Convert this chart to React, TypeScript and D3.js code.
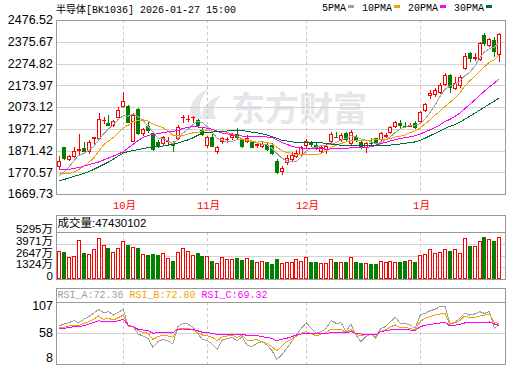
import React from 'react';
import * as d3 from 'd3';

// daily bars, 2025-09-12 .. 2026-01-27
const opens = [
  1793.5, 1886.2, 1827.3, 1841.2, 1870.4, 1884.4, 1865.8, 1924.7, 1926.1, 2009.6,
  2000.3, 1986.4, 2023.5, 2074.5, 2077.7, 1912.2, 2062.4, 1947.9, 1985.0, 1951.1,
  1909.4, 1901.5, 1910.8, 1908.5, 1924.7, 2020.7, 2011.4, 2020.7, 2012.8, 1966.4,
  1892.3, 1935.4, 1863.0, 1909.4, 1920.1, 1928.0, 1946.5, 1920.1, 1909.4, 1912.2,
  1893.7, 1889.0, 1896.9, 1896.9, 1824.1, 1773.1, 1812.0, 1827.3, 1841.2, 1850.5,
  1893.7, 1912.2, 1896.9, 1863.0, 1873.7, 1912.2, 1935.4, 1920.1, 1951.1, 1900.2,
  1935.4, 1912.2, 1884.4, 1906.2, 1928.0, 1920.1, 1935.4, 1951.1, 1981.7, 1997.5,
  1987.3, 1981.7, 2000.3, 2004.9, 2055.9, 2124.1, 2128.7, 2139.4, 2175.1, 2221.5,
  2155.2, 2170.5, 2247.9, 2322.1, 2294.3, 2291.0, 2407.0, 2355.9, 2383.8, 2314.2,
];
const highs = [
  1845.9, 1889.9, 1851.9, 1889.0, 1946.5, 1912.2, 1920.1, 1935.4, 2043.9, 2028.1,
  2037.4, 2012.8, 2074.5, 2144.0, 2082.4, 2043.9, 2067.1, 1974.3, 2004.9, 1958.6,
  1920.1, 1938.6, 1935.4, 1915.4, 1989.6, 2036.0, 2036.0, 2032.8, 2017.5, 1974.3,
  1938.6, 1947.9, 1892.3, 1935.4, 1935.4, 1951.1, 1974.3, 1928.0, 1943.3, 1915.4,
  1912.2, 1915.4, 1904.8, 1904.8, 1830.6, 1799.5, 1850.5, 1863.0, 1873.7, 1893.7,
  1924.7, 1916.8, 1904.8, 1896.9, 1900.2, 1955.8, 1955.8, 1951.1, 1955.8, 1966.4,
  1943.3, 1920.1, 1912.2, 1928.0, 1930.7, 1957.2, 1952.5, 1987.3, 2008.2, 2012.8,
  2003.5, 1998.9, 2010.5, 2055.9, 2093.0, 2151.9, 2159.8, 2182.9, 2229.4, 2226.1,
  2213.6, 2221.5, 2322.1, 2329.5, 2322.1, 2375.9, 2414.8, 2391.7, 2399.1, 2417.6,
];
const lows = [
  1781.0, 1827.3, 1821.3, 1835.2, 1850.5, 1855.2, 1855.2, 1896.9, 1924.7, 1992.9,
  1985.0, 1981.7, 2020.7, 2069.9, 1997.5, 1909.4, 1943.3, 1938.6, 1952.5, 1869.1,
  1881.6, 1896.9, 1893.7, 1865.8, 1920.1, 1997.5, 2002.2, 1997.5, 1974.3, 1938.6,
  1883.0, 1887.6, 1853.8, 1900.2, 1904.8, 1920.1, 1920.1, 1884.4, 1904.8, 1881.6,
  1881.6, 1882.9, 1869.1, 1850.5, 1762.4, 1757.8, 1804.1, 1819.4, 1835.2, 1847.3,
  1881.6, 1889.0, 1873.7, 1853.8, 1853.8, 1904.8, 1929.4, 1912.2, 1912.2, 1896.9,
  1912.2, 1878.3, 1858.4, 1893.7, 1896.9, 1915.4, 1929.4, 1947.9, 1978.0, 1974.3,
  1975.7, 1979.0, 1971.1, 1997.5, 2051.2, 2108.8, 2120.9, 2133.4, 2170.5, 2139.4,
  2151.9, 2159.8, 2244.7, 2283.2, 2287.8, 2287.8, 2355.9, 2352.7, 2306.4, 2283.2,
];
const closes = [
  1822.7, 1830.6, 1845.9, 1869.1, 1876.9, 1863.0, 1912.2, 1932.6, 2016.1, 2012.8,
  1986.4, 2008.2, 2057.8, 2100.9, 2000.3, 2036.0, 1946.5, 1969.7, 1961.8, 1873.7,
  1893.7, 1932.6, 1916.8, 1894.6, 1981.7, 2028.1, 2017.5, 2025.3, 1985.0, 1943.3,
  1934.0, 1889.0, 1889.0, 1928.0, 1923.3, 1943.3, 1928.0, 1889.0, 1930.7, 1884.4,
  1900.2, 1900.2, 1873.7, 1853.8, 1765.6, 1788.9, 1835.2, 1850.5, 1859.8, 1886.2,
  1916.8, 1896.9, 1881.6, 1889.0, 1892.3, 1946.5, 1931.7, 1943.3, 1920.1, 1958.6,
  1920.1, 1884.4, 1907.5, 1900.2, 1900.2, 1951.1, 1943.3, 1981.7, 2003.5, 1985.0,
  1982.7, 1991.0, 1974.3, 2051.2, 2087.0, 2139.4, 2151.9, 2175.1, 2221.5, 2159.8,
  2185.8, 2213.6, 2309.6, 2294.3, 2303.6, 2368.5, 2365.2, 2387.0, 2329.5, 2411.6,
];
// 成交量, 万
const volumes = [
  3155, 3009, 2479, 2558, 4395, 2930, 2817, 3415, 4620, 3866,
  3527, 3043, 3460, 4282, 3866, 3606, 3527, 2784, 2705, 2817,
  2739, 2930, 2400, 2062, 3043, 3460, 3189, 2671, 2930, 2592,
  2592, 2062, 1837, 2446, 2254, 2254, 2400, 2175, 2367, 2175,
  1916, 2029, 1916, 1690, 2254, 1769, 1882, 1882, 2220, 1995,
  2446, 1916, 1916, 1769, 1769, 2220, 1916, 1882, 1916, 2446,
  1916, 1803, 1769, 1690, 1690, 1995, 1882, 1995, 1882, 1916,
  2029, 2107, 1916, 2671, 2784, 3381, 2896, 3009, 3381, 3155,
  3381, 2930, 4587, 3719, 3719, 4282, 4733, 4508, 4316, 4743.0102,
];

const ma5 = [
  1753.2, 1771.7, 1794.9, 1822.7, 1849.2, 1857.1, 1873.3, 1890.9, 1920.1, 1947.5,
  1972.1, 1991.1, 2016.1, 2033.3, 2030.9, 2040.7, 2028.2, 2010.5, 1982.7, 1957.7,
  1928.9, 1926.2, 1915.9, 1902.5, 1923.8, 1950.7, 1967.9, 1989.7, 2007.8, 1999.9,
  1980.9, 1955.4, 1928.0, 1916.9, 1912.7, 1914.6, 1922.4, 1922.4, 1922.9, 1915.0,
  1906.7, 1901.1, 1897.9, 1882.6, 1858.9, 1836.7, 1823.7, 1819.0, 1820.0, 1844.1,
  1869.6, 1882.1, 1888.1, 1894.2, 1895.5, 1901.1, 1908.1, 1920.6, 1926.6, 1940.1,
  1935.0, 1925.2, 1918.3, 1914.1, 1902.5, 1908.5, 1920.6, 1935.4, 1955.8, 1973.0,
  1979.5, 1988.8, 1987.4, 1997.1, 2017.5, 2048.6, 2081.0, 2120.9, 2155.2, 2169.6,
  2178.9, 2191.4, 2218.3, 2232.7, 2261.4, 2298.0, 2328.2, 2343.9, 2350.9, 2372.2,
];
const ma10 = [
  1762.5, 1762.5, 1763.4, 1771.7, 1783.3, 1797.2, 1815.8, 1836.7, 1866.8, 1898.3,
  1914.6, 1932.2, 1953.5, 1976.7, 1989.2, 2006.4, 2009.6, 2013.3, 2007.8, 1994.3,
  1984.6, 1977.2, 1963.2, 1942.4, 1940.5, 1939.6, 1947.0, 1952.6, 1954.9, 1961.9,
  1965.6, 1961.4, 1958.6, 1962.3, 1956.3, 1947.5, 1938.7, 1925.2, 1919.7, 1913.6,
  1910.4, 1911.8, 1909.9, 1902.5, 1886.7, 1871.4, 1862.2, 1858.4, 1851.0, 1851.5,
  1852.9, 1852.9, 1853.3, 1857.1, 1869.6, 1885.3, 1895.1, 1904.3, 1910.4, 1917.8,
  1917.8, 1916.4, 1919.2, 1920.1, 1921.0, 1921.5, 1922.9, 1926.6, 1935.0, 1937.7,
  1943.8, 1954.4, 1961.4, 1976.2, 1995.2, 2013.8, 2034.7, 2054.1, 2075.9, 2093.5,
  2113.5, 2136.2, 2169.6, 2193.7, 2215.5, 2238.2, 2259.5, 2280.9, 2291.5, 2316.6,
];
const ma20 = [
  1781.0, 1781.9, 1784.3, 1788.0, 1792.6, 1798.6, 1805.6, 1812.1, 1818.1, 1827.4,
  1836.7, 1845.9, 1855.2, 1865.9, 1883.0, 1900.2, 1917.8, 1931.7, 1941.0, 1946.1,
  1949.3, 1954.4, 1958.1, 1959.5, 1964.6, 1973.0, 1978.1, 1982.7, 1981.3, 1978.1,
  1974.8, 1969.3, 1960.9, 1952.1, 1948.4, 1943.3, 1942.8, 1938.7, 1937.3, 1937.7,
  1937.7, 1936.3, 1934.0, 1932.2, 1921.5, 1909.5, 1900.2, 1891.8, 1885.3, 1882.6,
  1881.6, 1882.1, 1881.6, 1879.8, 1877.9, 1878.4, 1878.4, 1881.2, 1880.7, 1884.4,
  1885.3, 1884.4, 1886.3, 1888.6, 1895.1, 1903.4, 1909.0, 1915.5, 1922.4, 1927.5,
  1930.8, 1935.4, 1940.1, 1947.9, 1958.1, 1967.4, 1978.5, 1990.1, 2005.4, 2015.6,
  2028.6, 2045.3, 2065.3, 2084.7, 2105.1, 2126.0, 2146.9, 2167.3, 2183.5, 2204.8,
];
const ma30 = [
  1730.0, 1737.0, 1743.9, 1750.9, 1757.8, 1765.7, 1773.1, 1783.3, 1794.9, 1806.5,
  1818.1, 1832.0, 1845.9, 1859.8, 1866.8, 1871.4, 1876.1, 1880.7, 1884.4, 1887.7,
  1890.0, 1892.3, 1895.5, 1900.2, 1906.2, 1913.2, 1920.1, 1929.4, 1941.0, 1951.7,
  1954.9, 1956.8, 1958.6, 1960.5, 1961.9, 1964.2, 1965.1, 1963.7, 1960.9, 1956.8,
  1953.5, 1949.8, 1943.8, 1935.4, 1928.0, 1919.7, 1915.9, 1912.2, 1908.5, 1909.0,
  1909.5, 1908.5, 1907.1, 1907.1, 1903.9, 1901.6, 1898.3, 1896.0, 1893.7, 1894.2,
  1893.7, 1893.7, 1894.2, 1893.2, 1892.3, 1892.8, 1893.2, 1896.5, 1898.8, 1902.0,
  1904.8, 1908.1, 1911.3, 1917.8, 1928.5, 1940.1, 1950.7, 1961.4, 1973.9, 1983.2,
  1991.5, 2002.2, 2016.6, 2030.0, 2043.9, 2057.8, 2072.2, 2087.1, 2100.5, 2115.8,
];

const rsiA = [
  68.6, 71.9, 74.0, 77.2, 74.0, 79.3, 83.6, 88.9, 95.3, 90.0,
  91.6, 86.2, 90.5, 95.3, 67.6, 67.6, 55.9, 52.7, 49.0, 34.6,
  43.6, 47.4, 45.2, 39.9, 67.6, 72.9, 71.9, 67.6, 57.0, 47.4,
  45.2, 39.9, 31.4, 46.3, 48.4, 50.6, 45.2, 51.6, 38.3, 35.7,
  41.0, 43.6, 38.3, 30.3, 15.4, 22.4, 33.0, 43.6, 54.3, 64.9,
  74.0, 64.9, 57.0, 59.6, 64.9, 77.2, 72.9, 74.0, 59.6, 71.9,
  54.3, 43.6, 51.6, 55.9, 49.0, 64.9, 67.6, 75.6, 82.5, 72.9,
  72.9, 70.3, 64.9, 86.2, 88.9, 93.2, 95.3, 99.5, 100.6, 72.9,
  74.0, 80.9, 88.9, 86.2, 87.8, 91.6, 88.9, 91.6, 64.9, 72.36,
];
const rsiB = [
  66.0, 66.5, 68.7, 70.3, 69.2, 72.9, 75.6, 79.3, 84.6, 79.3,
  80.9, 78.3, 82.0, 86.2, 68.7, 67.6, 61.2, 58.6, 57.0, 47.4,
  51.6, 54.3, 52.7, 50.6, 63.3, 64.9, 64.4, 63.3, 58.0, 54.3,
  53.2, 50.6, 45.2, 51.6, 52.7, 53.8, 50.6, 53.8, 46.3, 45.2,
  47.4, 43.6, 41.0, 35.7, 29.3, 35.7, 43.6, 47.4, 52.7, 57.0,
  59.6, 57.0, 52.7, 55.9, 58.0, 63.3, 62.3, 63.3, 58.0, 63.3,
  55.9, 52.7, 55.4, 55.9, 51.6, 59.6, 62.3, 67.6, 70.3, 66.0,
  66.0, 64.9, 62.3, 75.6, 80.9, 83.6, 86.2, 87.8, 88.9, 71.3,
  74.0, 77.2, 84.6, 82.5, 82.5, 84.6, 86.2, 87.8, 74.0, 72.80,
];
const rsiC = [
  65.0, 65.0, 66.0, 67.6, 67.6, 69.2, 71.9, 74.0, 77.2, 75.1,
  75.6, 75.1, 77.2, 79.3, 70.3, 67.6, 63.3, 62.3, 61.2, 57.0,
  58.0, 58.6, 58.6, 58.0, 63.3, 63.9, 63.3, 63.3, 61.2, 58.6,
  58.0, 57.0, 54.8, 55.9, 55.9, 55.9, 55.4, 55.4, 53.8, 53.8,
  53.8, 51.6, 50.6, 49.0, 45.2, 47.4, 49.0, 51.6, 54.3, 55.9,
  57.0, 57.0, 55.9, 57.0, 57.0, 58.0, 58.0, 58.6, 58.0, 59.6,
  57.0, 55.9, 55.9, 55.9, 54.3, 59.6, 61.2, 62.3, 63.3, 62.3,
  62.3, 62.3, 61.2, 67.6, 69.8, 71.3, 72.4, 73.5, 75.1, 68.7,
  69.8, 71.3, 73.5, 73.5, 73.5, 74.5, 74.5, 75.1, 71.9, 69.32,
];

const priceTicks = [2476.52, 2375.67, 2274.82, 2173.97, 2073.12, 1972.27, 1871.42, 1770.57, 1669.73];
const volTicks = [5295, 3971, 2647, 1324, 0];
const rsiTicks = [107, 58, 8];
const monthIdx = [13, 30, 50, 73];
const monthLabels = ['10月', '11月', '12月', '1月'];
const maNames = ['5PMA', '10PMA', '20PMA', '30PMA'];
const rsiNames = ['RSI_A', 'RSI_B', 'RSI_C'];

const title = '半导体[BK1036] 2026-01-27 15:00';
const volTotal = '47430102';

const RED = '#ff0000';
const GREEN = '#008000';
const FRAME = '#989898';
const GRID = '#d2d2d2';
const maColors = ['#a0a0a0', '#f2a200', '#ff00ff', '#006c35'];
const rsiColors = ['#a0a0a0', '#f2a200', '#ff00ff'];

const MONO = "'Liberation Mono', 'Noto Sans CJK SC', monospace";
const SANS = "'Liberation Sans', 'Noto Sans CJK SC', sans-serif";

const L = 56, R = 505;
const main = { top: 20, bottom: 194 };
const vol = { top: 215, sep: 232, bottom: 279 };
const rsi = { top: 288, sep: 302, bottom: 364 };

const px = (v: number) => Math.round(v) + 0.5;

export default function App() {
  const idx = d3.range(closes.length);
  const x = d3.scaleBand<number>().domain(idx).range([56.5, 501.8]);
  const cx = (i: number) => (x(i) as number) + x.bandwidth() / 2;

  const yP = d3.scaleLinear().domain([1669.73, 2476.52]).range([main.bottom, main.top]);
  const yV = d3.scaleLinear().domain([0, 5295]).range([vol.bottom, vol.sep]);
  const yR = d3.scaleLinear().domain([8, 107]).range([rsi.bottom, rsi.sep]);

  const path = (vals: number[], ys: d3.ScaleLinear<number, number>) =>
    d3.line<number>().x((_, i) => cx(i)).y(v => ys(v))(vals) || '';

  const monthX = monthIdx.map(i => px(cx(i)));

  // legend layout: text, swatch, next
  let cur = 322;
  const legend = maNames.map((name, k) => {
    const tx = cur;
    const sx = tx + name.length * 6 + 2;
    cur = sx + 6 + 8;
    return { name, tx, sx, color: maColors[k] };
  });

  const rsiLast = [rsiA, rsiB, rsiC].map(a => a[a.length - 1].toFixed(2));

  return (
    <svg width={520} height={365} style={{ position: 'absolute', left: 0, top: 0, background: '#fff' }}>
      <rect x={0} y={0} width={520} height={365} fill="#fff" />

      {/* watermark */}
      <g fill="#e6e6ea">
        <path d="M192,119 C187,108 193,95 210,88 C200,97 197,108 203,119 Z" />
        <path d="M203,119 C200,109 208,99 222,95 C213,103 212,111 216,119 Z" />
        <text x={231} y={121} fontSize={34} fontWeight="bold" fontFamily="'Noto Sans CJK SC', sans-serif">东方财富</text>
      </g>

      {/* title + legend */}
      <text x={56} y={12.5} fontSize={10} fontFamily={MONO} fill="#000">{title}</text>
      {legend.map(d => (
        <g key={d.name}>
          <text x={d.tx} y={11} fontSize={10} fontFamily={MONO} fill="#000">{d.name}</text>
          <rect x={d.sx} y={5} width={6} height={3} fill={d.color} />
        </g>
      ))}

      {/* grids */}
      <g shapeRendering="crispEdges">
        {priceTicks.slice(1, -1).map(t => (
          <line key={t} x1={L} x2={R} y1={px(yP(t))} y2={px(yP(t))} stroke={GRID} />
        ))}
        {volTicks.slice(1, -1).map(t => (
          <line key={t} x1={L} x2={R} y1={px(yV(t))} y2={px(yV(t))} stroke={GRID} />
        ))}
        <line x1={L} x2={R} y1={px(yR(58))} y2={px(yR(58))} stroke={GRID} />
        {monthX.map((mx, k) => (
          <g key={k} stroke="#c8c8c8" strokeDasharray="3,3">
            <line x1={mx} x2={mx} y1={main.top} y2={main.bottom} />
            <line x1={mx} x2={mx} y1={vol.sep} y2={vol.bottom} />
            <line x1={mx} x2={mx} y1={rsi.sep} y2={rsi.bottom} />
          </g>
        ))}
      </g>

      {/* candles */}
      <g shapeRendering="crispEdges">
        {idx.map(i => {
          const up = closes[i] >= opens[i];
          const col = up ? RED : GREEN;
          const c = Math.round(cx(i));
          const top = Math.round(yP(Math.max(opens[i], closes[i])));
          const bot = Math.round(yP(Math.min(opens[i], closes[i])));
          const hi = Math.round(yP(highs[i]));
          const lo = Math.round(yP(lows[i]));
          return (
            <g key={i}>
              <line x1={c + 0.5} x2={c + 0.5} y1={hi} y2={top} stroke={col} />
              <line x1={c + 0.5} x2={c + 0.5} y1={bot} y2={lo} stroke={col} />
              <rect x={c - 1.5} y={top + 0.5} width={3} height={Math.max(bot - top - 1, 0.01)}
                fill={up ? '#fff' : col} stroke={col} />
            </g>
          );
        })}
      </g>

      {/* moving averages */}
      <g fill="none" strokeWidth={1} shapeRendering="crispEdges">
        {[ma5, ma10, ma20, ma30].map((m, k) => (
          <path key={k} d={path(m, yP)} stroke={maColors[k]} />
        ))}
      </g>

      {/* volume */}
      <g shapeRendering="crispEdges">
        {idx.map(i => {
          const up = closes[i] >= opens[i];
          const col = up ? RED : GREEN;
          const c = Math.round(cx(i));
          const top = Math.round(yV(volumes[i]));
          return (
            <rect key={i} x={c - 1.5} y={top + 0.5} width={3} height={vol.bottom - top - 1}
              fill={up ? '#fff' : col} stroke={col} />
          );
        })}
      </g>

      {/* rsi */}
      <g fill="none" strokeWidth={1} shapeRendering="crispEdges">
        {[rsiA, rsiB, rsiC].map((r, k) => (
          <path key={k} d={path(r, yR)} stroke={rsiColors[k]} />
        ))}
      </g>

      {/* frames */}
      <g fill="none" stroke={FRAME} shapeRendering="crispEdges">
        <rect x={L + 0.5} y={main.top + 0.5} width={R - L} height={main.bottom - main.top} />
        <rect x={L + 0.5} y={vol.top + 0.5} width={R - L} height={vol.bottom - vol.top} />
        <line x1={L} x2={R} y1={vol.sep + 0.5} y2={vol.sep + 0.5} />
        <rect x={L + 0.5} y={rsi.top + 0.5} width={R - L} height={rsi.bottom - rsi.top} />
        <line x1={L} x2={R} y1={rsi.sep + 0.5} y2={rsi.sep + 0.5} />
      </g>

      {/* axis labels */}
      <g fontFamily={SANS} fontSize={12.5} fill="#000" textAnchor="end">
        {priceTicks.map(t => (
          <text key={t} x={53} y={yP(t)} dy="0.35em">{t.toFixed(2)}</text>
        ))}
        {rsiTicks.map(t => (
          <text key={t} x={53} y={Math.min(Math.max(yR(t), rsi.sep + 4), rsi.bottom - 6)} dy="0.35em">{t}</text>
        ))}
      </g>
      <g fontFamily={SANS} fontSize={11.5} fill="#000" textAnchor="end">
        {volTicks.map(t => (
          <text key={t} x={53} y={yV(t) - 3} dy="0.35em">{t === 0 ? '0' : `${t}万`}</text>
        ))}
      </g>
      {monthLabels.map((m, k) => (
        <text key={m} x={monthX[k] + 1} y={209} fontSize={10.5} fontFamily={MONO} fill={RED} textAnchor="middle">{m}</text>
      ))}

      {/* panel headers */}
      <text x={57.5} y={227} fontSize={11.5} fontFamily={SANS} fill="#000">{`成交量:${volTotal}`}</text>
      <text x={57.5} y={298} fontSize={10} fontFamily={MONO}>
        {rsiNames.map((nm, k) => (
          <tspan key={nm} fill={rsiColors[k]}>{`${nm}:${rsiLast[k]}${k < 2 ? ' ' : ''}`}</tspan>
        ))}
      </text>
    </svg>
  );
}
